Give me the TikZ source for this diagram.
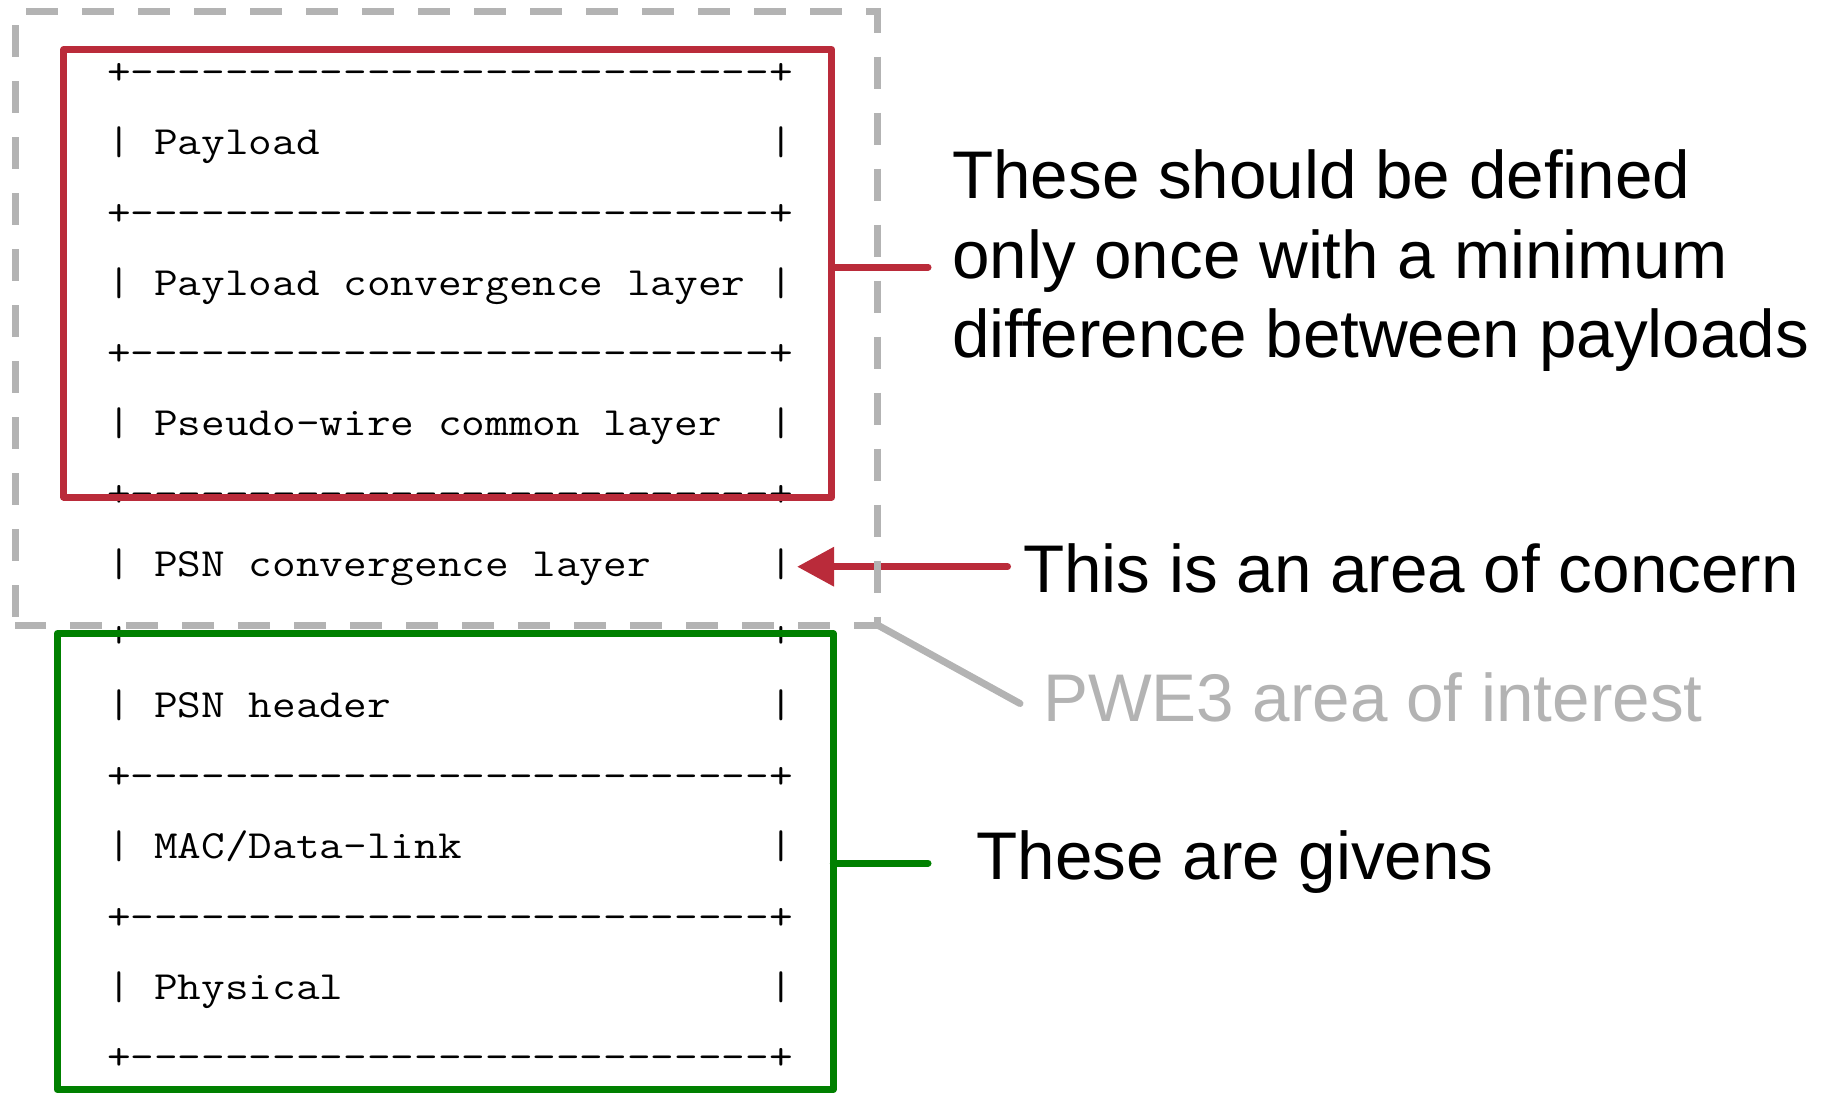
\documentclass[tikz,border=0pt]{standalone}
\usepackage{fontspec}
\usepackage{graphicx}
\usetikzlibrary{arrows.meta,calc}
\newfontfamily\notefont{Liberation Sans}
\definecolor{layerred}{RGB}{186,43,58}
\definecolor{layergreen}{RGB}{0,128,0}
\definecolor{areagray}{RGB}{179,179,179}
\ExplSyntaxOn
\cs_new_eq:NN \Repeated \prg_replicate:nn
\ExplSyntaxOff
% one row of the ASCII layer stack, widened to the column pitch
\newcommand\asciirow[1]{\scalebox{1.148}[1]{#1}}
% hyphens kept apart so they never merge into dashes
\newcommand\ruleline{+\Repeated{27}{-\kern0pt}+}
\newcommand\blanks[1]{\Repeated{#1}{\ }}
\tikzset{
  layer/.style={anchor=base west, inner sep=0pt, outer sep=0pt,
    font=\ttfamily\fontsize{40}{48}\selectfont},
  groupbox/.style={draw, line width=7pt, line join=round, inner sep=0pt, outer sep=0pt},
  commonbox/.style={groupbox, draw=layerred},
  givenbox/.style={groupbox, draw=layergreen},
  areabox/.style={inner sep=0pt, outer sep=0pt},
  areaframe/.style={draw=areagray, line width=7pt, dash pattern=on 32pt off 24pt, dash phase=47.7pt},
  link/.style={line width=7pt, line cap=round},
  note/.style={anchor=base west, inner sep=0pt, font=\notefont\fontsize{67.4}{80}\selectfont},
}
\begin{document}
\begin{tikzpicture}[x=1pt, y=-1pt]
\useasboundingbox (0,0) rectangle (1830,1093);

% ASCII protocol stack
\node[layer] (l1)  at (107,84.3)   {\asciirow{\ruleline}};
\node[layer] (l2)  at (107,154.2)  {\asciirow{|\ Payload\blanks{19}|}};
\node[layer] (l3)  at (107,225.1)  {\asciirow{\ruleline}};
\node[layer] (l4)  at (107,295.0)  {\asciirow{|\ Payload\ convergence\ layer\ |}};
\node[layer] (l5)  at (107,365.9)  {\asciirow{\ruleline}};
\node[layer] (l6)  at (107,435.8)  {\asciirow{|\ Pseudo-wire\ common\ layer\blanks{2}|}};
\node[layer] (l7)  at (107,506.7)  {\asciirow{\ruleline}};
\node[layer] (l8)  at (107,576.6)  {\asciirow{|\ PSN\ convergence\ layer\blanks{5}|}};
\node[layer] (l9)  at (107,647.5)  {\asciirow{\ruleline}};
\node[layer] (l10) at (107,717.4)  {\asciirow{|\ PSN\ header\blanks{16}|}};
\node[layer] (l11) at (107,788.3)  {\asciirow{\ruleline}};
\node[layer] (l12) at (107,858.2)  {\asciirow{|\ MAC/Data-link\blanks{13}|}};
\node[layer] (l13) at (107,929.1)  {\asciirow{\ruleline}};
\node[layer] (l14) at (107,999.0)  {\asciirow{|\ Physical\blanks{18}|}};
\node[layer] (l15) at (107,1069.9) {\asciirow{\ruleline}};

% grouping boxes
\node[commonbox, minimum width=767.9pt, minimum height=447.5pt] (common) at (447.75,273.25) {};
\node[givenbox, minimum width=776.1pt, minimum height=455.8pt] (given) at (445.25,861.6) {};
\node[areabox, minimum width=862.2pt, minimum height=613.3pt] (area) at (446.4,318.35) {};

% annotations
\node[note] (def1) at (952,198.3) {These should be defined};
\node[note] (def2) at (952,278.3) {only once with a minimum};
\node[note] (def3) at (952,357.7) {difference between payloads};
\node[note] (concern) at (1023,592.3) {This is an area of concern};
\node[note, text=areagray] (pwe) at (1043,721.8) {PWE3 area of interest};
\node[note] (givens) at (976.5,879.4) {These are givens};

\coordinate (redtap) at (928,267);
\coordinate (greentap) at (928,863);
\coordinate (concerntail) at (1007.5,566.7);
\coordinate (pwetail) at (1020,703.5);

% connectors
\draw[link, draw=layerred] (redtap -| common.east) -- (redtap);
\draw[link, draw=layergreen] (greentap -| given.east) -- (greentap);
\draw[link, color=layerred, -{Triangle[length=37pt 0 0, width=38pt 0 0]}]
  (concerntail) -- ($(l8.east |- concerntail)+(4.3,0)$);

% dashed area of interest
\draw[areaframe] (area.south west) -- (area.north west) -- (area.north east) -- (area.south east) -- cycle;
\draw[link, draw=areagray] (area.south east) -- (pwetail);
\end{tikzpicture}
\end{document}
